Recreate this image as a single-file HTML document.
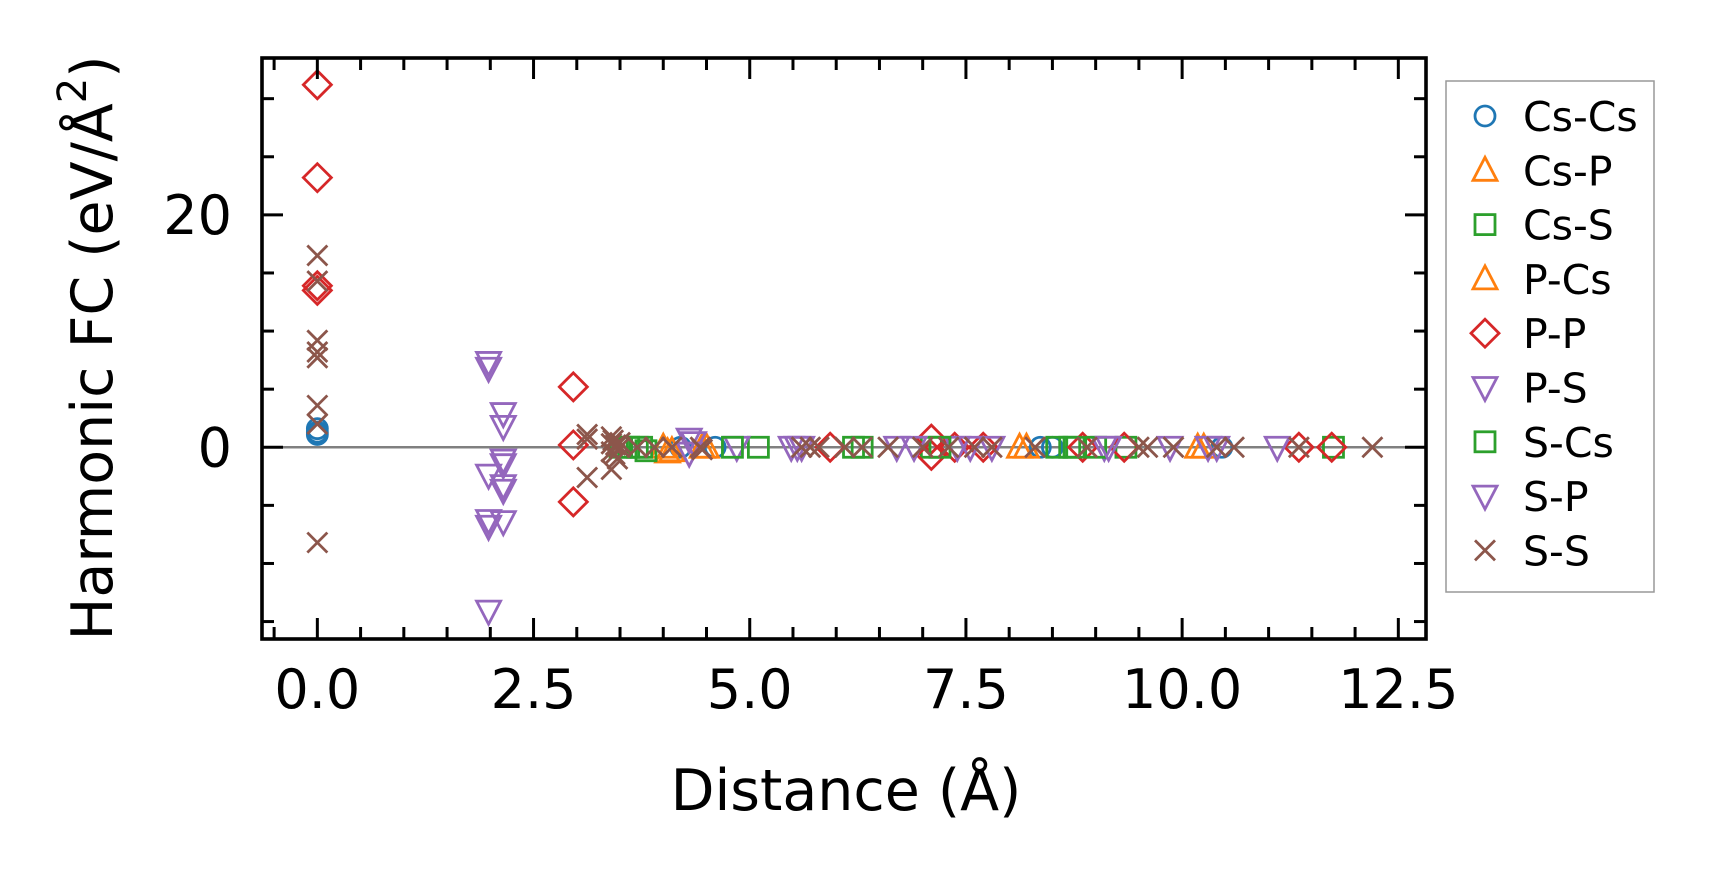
<!DOCTYPE html>
<html><head><meta charset="utf-8"><style>
html,body{margin:0;padding:0;background:#fff;}
svg{display:block;font-family:"DejaVu Sans","Liberation Sans",sans-serif;}
</style></head><body>
<svg id="chart" width="1714" height="883" viewBox="0 0 1714 883" xmlns="http://www.w3.org/2000/svg">
<rect width="1714" height="883" fill="#fff"/>
<g id="marks"></g>
<g id="axes"></g>
<text x="93" y="348" transform="rotate(-90 93 348)" text-anchor="middle" dominant-baseline="central" font-size="57">Harmonic FC (eV/Å<tspan dy="-20" font-size="40">2</tspan><tspan dy="20">)</tspan></text>
<text x="846" y="810" text-anchor="middle" font-size="57">Distance (Å)</text>
<g id="legend"></g>
</svg>
<script>
const xTicks = [0, 2.5, 5, 7.5, 10, 12.5];
const xTickLabels = ["0.0", "2.5", "5.0", "7.5", "10.0", "12.5"];
const yTicks = [0, 20];
const yTickLabels = ["0", "20"];
const seriesNames = ["Cs-Cs","Cs-P","Cs-S","P-Cs","P-P","P-S","S-Cs","S-P","S-S"];

const csCsX = [0, 0, 0, 4.2, 4.6, 8.36, 8.5, 10.46];
const csCsY = [1.3, 1.6, 1.1, 0, 0, 0, 0, 0];
const csPX = [4.0, 4.05, 4.45, 8.12, 10.18];
const csPY = [0, -0.4, 0, 0, 0];
const csSX = [3.5, 3.6, 3.75, 3.8, 5.1, 6.2, 7.1, 8.55, 8.75, 9.35, 11.75];
const csSY = [0, 0, 0, -0.3, 0, 0, 0, 0, 0, 0, 0];
const pCsX = [4.1, 4.5, 8.2, 10.25];
const pCsY = [-0.3, 0, 0, 0];
const pPX = [0, 0, 0, 0, 2.96, 2.96, 2.96, 5.93, 7.1, 7.1, 7.37, 7.7, 8.85, 9.33, 11.35, 11.73];
const pPY = [31.2, 23.2, 13.9, 13.5, 5.2, 0.2, -4.7, 0, 0.7, -0.7, 0, 0, 0, 0, 0, 0];
const pSX = [1.98, 1.98, 1.98, 1.98, 2.15, 2.15, 2.15, 2.15, 4.3, 4.85, 5.48, 6.7, 7.4, 9.1, 9.86, 11.1];
const pSY = [7.3, -2.4, -6.3, -14.1, 2.9, -1.1, -3.3, -6.4, 0.7, 0, 0, 0, 0, 0, 0, 0];
const sCsX = [3.7, 4.8, 6.3, 7.2, 8.7, 9.0];
const sCsY = [0, 0, 0, 0, 0, 0];
const sPX = [1.98, 1.98, 2.15, 2.15, 2.15, 4.3, 4.35, 5.55, 5.6, 6.9, 7.55, 7.8, 9.15, 10.3, 10.4];
const sPY = [6.8, -6.8, 1.8, -1.5, -3.7, -0.5, 0.4, 0, 0, 0, 0, 0, 0, 0, 0];
const sSX = [0, 0, 0, 0, 0, 0, 0, 0, 3.12, 3.12, 3.12, 3.4, 3.4, 3.4, 3.4, 3.42, 3.44, 3.45, 3.47, 3.5, 3.5, 3.7, 3.9, 4.1, 4.43, 4.45, 5.6, 5.7, 5.8, 6.1, 6.3, 6.6, 7.0, 7.3, 7.6, 7.8, 8.3, 8.9, 9.5, 9.6, 9.9, 10.4, 10.6, 11.35, 12.2];
const sSY = [16.5, 14.3, 9.2, 8.2, 7.7, 3.6, 2.0, -8.2, 1.1, 0.7, -2.6, 0.9, 0.3, -0.4, -1.9, 0.6, -0.6, 0.2, -1.0, 0, 0.4, 0, 0, 0, 0, -0.2, 0, 0, 0, 0, 0, 0, 0, 0, 0, 0, 0, 0, 0, 0, 0, 0, 0, 0, 0];

const L = 262, R = 1426, T = 58, B = 639;
const xMin = -0.64, xMax = 12.82, yMin = -16.5, yMax = 33.5;
function sx(v){ return L + (v - xMin) / (xMax - xMin) * (R - L); }
function sy(v){ return B - (v - yMin) / (yMax - yMin) * (B - T); }
const NS = "http://www.w3.org/2000/svg";
function mk(tag, attrs, parent){ const e = document.createElementNS(NS, tag); for (const k in attrs) e.setAttribute(k, attrs[k]); parent.appendChild(e); return e; }

const colors = {"Cs-Cs":"#1f77b4","Cs-P":"#ff7f0e","Cs-S":"#2ca02c","P-Cs":"#ff7f0e","P-P":"#d62728","P-S":"#9467bd","S-Cs":"#2ca02c","S-P":"#9467bd","S-S":"#8c564b"};
const shapes = {"Cs-Cs":"o","Cs-P":"^","Cs-S":"s","P-Cs":"^","P-P":"D","P-S":"v","S-Cs":"s","S-P":"v","S-S":"x"};
function marker(shape, cx, cy, color, parent){
  const st = {fill:"none", stroke:color, "stroke-width":2.8};
  let e;
  if (shape === "o") e = mk("circle", Object.assign({cx:cx, cy:cy, r:10}, st), parent);
  else if (shape === "s") e = mk("rect", Object.assign({x:cx-10, y:cy-10, width:20, height:20}, st), parent);
  else if (shape === "D") e = mk("polygon", Object.assign({points:`${cx},${cy-14} ${cx+14},${cy} ${cx},${cy+14} ${cx-14},${cy}`}, st), parent);
  else if (shape === "^") e = mk("polygon", Object.assign({points:`${cx},${cy-13} ${cx+12},${cy+10} ${cx-12},${cy+10}`}, st), parent);
  else if (shape === "v") e = mk("polygon", Object.assign({points:`${cx},${cy+13} ${cx+12},${cy-10} ${cx-12},${cy-10}`}, st), parent);
  else e = mk("path", Object.assign({d:`M${cx-10},${cy-10}L${cx+10},${cy+10}M${cx-10},${cy+10}L${cx+10},${cy-10}`}, st), parent);
  return e;
}

const marks = document.getElementById("marks");
const zl = mk("line", {x1:L, x2:R, y1:sy(0), y2:sy(0), stroke:"#808080", "stroke-width":2.5}, marks);


const data = [[csCsX,csCsY],[csPX,csPY],[csSX,csSY],[pCsX,pCsY],[pPX,pPY],[pSX,pSY],[sCsX,sCsY],[sPX,sPY],[sSX,sSY]];
data.forEach((d, i) => {
  const name = seriesNames[i];
  const g = mk("g", {}, marks);
  
  
  d[0].forEach((xv, j) => {
    const m = marker(shapes[name], sx(xv), sy(d[1][j]), colors[name], g);
    
    
  });
});

const axes = document.getElementById("axes");
const frame = mk("rect", {x:L, y:T, width:R-L, height:B-T, fill:"none", stroke:"#000", "stroke-width":3.6}, axes);


for (let v = -0.5; v <= 12.8; v += 0.5) {
  const major = Math.abs(v / 2.5 - Math.round(v / 2.5)) < 1e-6;
  const len = major ? 21 : 12, x = sx(v);
  const t1 = mk("line", {x1:x, x2:x, y1:B, y2:B-len, stroke:"#000", "stroke-width":3}, axes);
  
  
  const t2 = mk("line", {x1:x, x2:x, y1:T, y2:T+len, stroke:"#000", "stroke-width":3}, axes);
  
  
}
for (let v = -15; v <= 33; v += 5) {
  const major = v % 20 === 0;
  const len = major ? 21 : 12, y = sy(v);
  const t1 = mk("line", {x1:L, x2:L+len, y1:y, y2:y, stroke:"#000", "stroke-width":3}, axes);
  
  
  const t2 = mk("line", {x1:R, x2:R-len, y1:y, y2:y, stroke:"#000", "stroke-width":3}, axes);
  
  
}
xTicks.forEach((v, i) => {
  const t = mk("text", {x:sx(v), y:708, "text-anchor":"middle", "font-size":54}, axes);
  t.textContent = xTickLabels[i];
  
  
});
yTicks.forEach((v, i) => {
  const t = mk("text", {x:232, y:sy(v) + 19, "text-anchor":"end", "font-size":54}, axes);
  t.textContent = yTickLabels[i];
  
  
});

const legend = document.getElementById("legend");
const lb = mk("rect", {x:1446, y:81, width:208, height:511, fill:"#fff", stroke:"#999", "stroke-width":1.5}, legend);


seriesNames.forEach((name, i) => {
  const y = 116 + i * 54.3;
  const g = mk("g", {}, legend);
  
  
  marker(shapes[name], 1485, y, colors[name], g);
  const t = mk("text", {x:1523, y:y + 15, "font-size":41}, g);
  t.textContent = name;
});
</script>
</body></html>
